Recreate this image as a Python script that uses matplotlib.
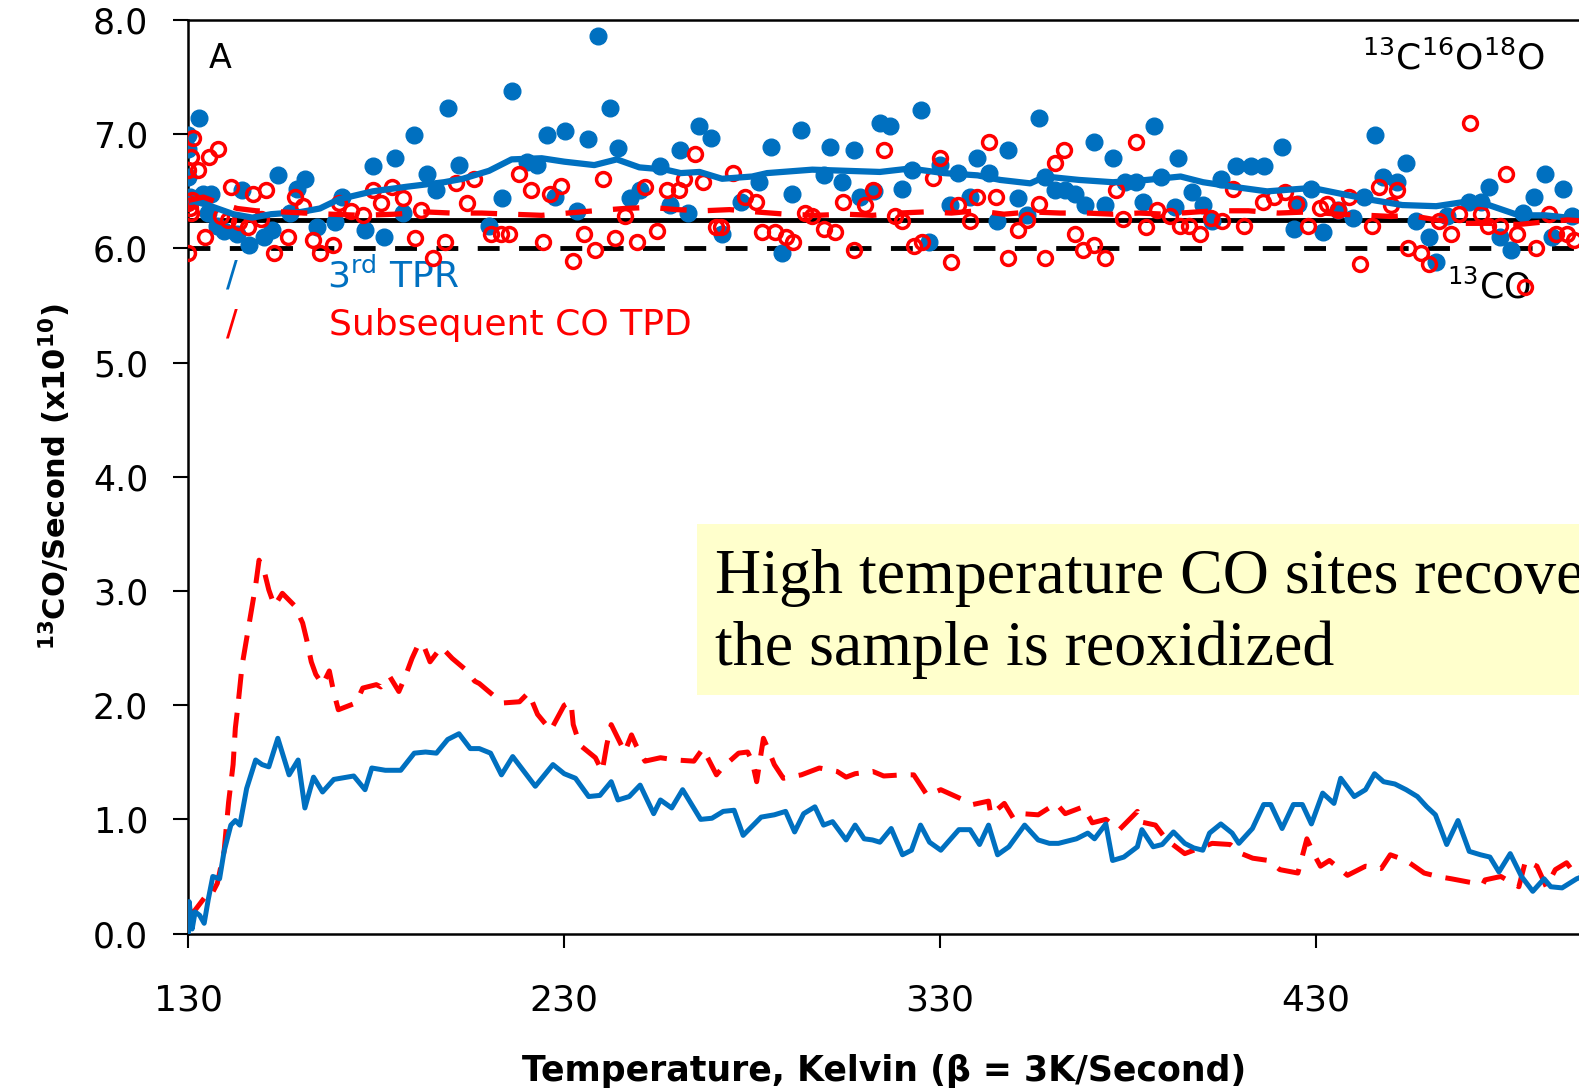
import matplotlib
matplotlib.use('Agg')
from matplotlib import pyplot as plt
from matplotlib.patches import Rectangle

# ---- 13CO traces (lower curves) ----
tpr_co_t = [130, 130.2, 131, 131.8, 133, 134.2, 135.3, 136.5, 138.3, 139.5, 141.3, 142.5, 143.7,
            145.5, 147.9, 149.6, 151.4, 153.8, 156.8, 159.2, 161, 163.3, 165.7, 168.7, 174, 177,
            178.8, 182.4, 186.5, 190.1, 193.1, 196, 199, 202, 205, 207.4, 210.4, 213.3, 216.3,
            219.3, 222.3, 227, 230, 233, 236.5, 239.5, 242.5, 244.3, 247.3, 250.2, 253.8, 255.6,
            258.6, 261.5, 266.3, 269.3, 272.3, 275.2, 277.6, 282.4, 285.9, 288.9, 291.3, 293.7,
            296.7, 299, 301.4, 305, 307.4, 309.8, 312, 314, 317, 320, 322.4, 324.8, 327.2, 330.2,
            335, 338, 340.5, 342.9, 345.3, 348.3, 352.5, 356.1, 359.1, 361.5, 366.3, 369.3, 371.1,
            374.1, 375.9, 378.9, 382.5, 383.7, 386.7, 389.1, 392.1, 395.1, 397.5, 399.9, 401.7,
            404.7, 407.7, 409.5, 413.1, 416.1, 418, 421, 424, 426.4, 428.8, 431.8, 434.8, 436.6,
            440.2, 443.2, 445.6, 448, 451, 454, 457, 459.5, 461.8, 464.8, 467.8, 470.8, 473.8,
            476.3, 478.7, 481.7, 484.7, 487.7, 490.7, 492.5, 495.5, 499.4, 501]
tpr_co = [0, 0.28, 0.04, 0.19, 0.16, 0.09, 0.3, 0.50, 0.48, 0.72, 0.95, 0.99, 0.95,
          1.27, 1.52, 1.48, 1.46, 1.71, 1.39, 1.52, 1.10, 1.37, 1.24, 1.35, 1.38, 1.26,
          1.45, 1.43, 1.43, 1.58, 1.59, 1.58, 1.70, 1.75, 1.62, 1.62, 1.58, 1.39, 1.55,
          1.42, 1.29, 1.48, 1.40, 1.36, 1.20, 1.21, 1.33, 1.17, 1.20, 1.30, 1.05, 1.17,
          1.10, 1.26, 1.00, 1.01, 1.07, 1.08, 0.86, 1.02, 1.04, 1.07, 0.89, 1.05,
          1.11, 0.95, 0.98, 0.82, 0.95, 0.83, 0.82, 0.80, 0.92, 0.69, 0.73, 0.95, 0.80, 0.73,
          0.91, 0.91, 0.78, 0.95, 0.69, 0.76, 0.95, 0.82, 0.79, 0.79, 0.83, 0.88, 0.83,
          0.96, 0.64, 0.67, 0.76, 0.91, 0.76, 0.78, 0.89, 0.79, 0.75, 0.73, 0.88,
          0.96, 0.88, 0.79, 0.92, 1.13, 1.13, 0.92, 1.13, 1.13, 0.96, 1.23, 1.14, 1.36,
          1.20, 1.26, 1.40, 1.33, 1.31, 1.26, 1.20, 1.11, 1.04, 0.78, 0.99, 0.72, 0.69,
          0.67, 0.54, 0.70, 0.50, 0.37, 0.48, 0.41, 0.40, 0.48, 0.50]

tpd_co_t = [130, 131.2, 134.2, 135.5, 137.7, 139.5, 140.7, 141.9, 142.5, 143.1, 144.3, 146,
            147.9, 148.8, 150.2, 151.4, 152.9, 155, 158.3, 160.4, 161.5, 162.7, 163.9, 165.7,
            167.5, 168.7, 169.9, 174.6, 176.4, 180, 181.2, 183.6, 186, 187.7, 189.5, 191.3,
            192.5, 194.3, 197.3, 200.2, 203.8, 206.2, 207.4, 211, 213.9, 218.1, 220.5, 222.9,
            226.4, 230, 231.8, 232.4, 234.2, 238.3, 240.1, 241.3, 242.5, 244.3, 246.1, 247.9,
            249.1, 251.5, 255.6, 259.8, 264.5, 266.9, 270.5, 272.3, 276.4, 278.8, 280, 281.2,
            283, 284.2, 285.9, 288.3, 293.1, 297.9, 302.6, 305, 307.4, 312.1, 315, 320, 323,
            326.6, 330.2, 335.6, 338.7, 342.9, 343.5, 347.1, 349.5, 351.9, 356.1, 360.9, 363.3,
            368.1, 370.5, 374.1, 377.7, 382.5, 383.1, 387.3, 390.3, 395.1, 402.4, 407.2, 410.2,
            413.2, 417.4, 420.4, 425.2, 427.6, 429.4, 431.2, 433.6, 438.4, 443.2, 447.4, 449.8,
            454, 458.8, 462.4, 466, 470.8, 474.4, 475, 479.2, 484, 485.8, 488.8, 491.3, 493.7,
            496.7, 499.4, 501]
tpd_co = [0.22, 0.18, 0.31, 0.30, 0.44, 0.72, 1.15, 1.48, 1.80, 1.97, 2.35, 2.68,
          3.05, 3.27, 3.17, 3.01, 2.87, 2.98, 2.87, 2.72, 2.57, 2.38, 2.27, 2.18,
          2.30, 2.11, 1.96, 2.02, 2.15, 2.18, 2.16, 2.25, 2.12, 2.25, 2.41, 2.54,
          2.53, 2.38, 2.51, 2.41, 2.31, 2.21, 2.19, 2.09, 2.02, 2.03, 2.11, 1.92,
          1.78, 2.00, 2.03, 1.83, 1.65, 1.54, 1.42, 1.65, 1.83, 1.71, 1.59, 1.74,
          1.65, 1.51, 1.54, 1.52, 1.51, 1.62, 1.39, 1.46, 1.58, 1.59, 1.51, 1.33,
          1.71, 1.62, 1.48, 1.36, 1.39, 1.45, 1.42, 1.37, 1.40, 1.42, 1.38, 1.39, 1.39,
          1.21, 1.26, 1.18, 1.13, 1.16, 1.04, 1.14, 1.01, 1.05, 1.04, 1.14, 1.05,
          1.11, 0.97, 1.00, 0.91, 1.07, 0.98, 0.95, 0.82, 0.70, 0.79, 0.78, 0.70,
          0.66, 0.64, 0.56, 0.53, 0.83, 0.70, 0.59, 0.64, 0.51, 0.59, 0.57, 0.69,
          0.64, 0.53, 0.50, 0.48, 0.45, 0.43, 0.47, 0.50, 0.41, 0.64, 0.59, 0.41, 0.56,
          0.62, 0.50, 0.52]

# ---- 13C16O18O traces (upper curves) ----
tpr_avg_t = [130, 136, 142, 147, 152, 160, 165, 170, 179, 188, 198, 203, 210, 216, 224, 230,
             238, 244, 250, 257, 261, 266, 272, 280, 284, 296, 314, 322, 331, 340, 346, 354,
             358, 367, 376, 385, 391, 394, 400, 408, 417, 429, 438, 444, 453, 462, 470, 476,
             484, 491, 497, 501]
tpr_avg = [6.43, 6.37, 6.30, 6.27, 6.30, 6.32, 6.35, 6.43, 6.50, 6.54, 6.58, 6.61, 6.68, 6.78,
           6.79, 6.76, 6.73, 6.78, 6.71, 6.69, 6.66, 6.67, 6.61, 6.63, 6.66, 6.69, 6.67, 6.70,
           6.66, 6.64, 6.60, 6.57, 6.63, 6.60, 6.58, 6.60, 6.62, 6.63, 6.58, 6.54, 6.50, 6.53,
           6.47, 6.43, 6.38, 6.37, 6.41, 6.38, 6.29, 6.29, 6.27, 6.30]

tpd_avg_t = [130, 134, 138, 143, 148, 155, 161, 168, 176, 185, 193, 200, 208, 216, 224, 231,
             238, 246, 253, 260, 267, 274, 281, 289, 297, 305, 312, 319, 326, 333, 340, 347,
             354, 362, 369, 376, 383, 390, 394, 403, 412, 420, 428, 436, 444, 450, 455, 462,
             469, 476, 484, 490, 497, 501]
tpd_avg = [6.42, 6.45, 6.40, 6.35, 6.33, 6.32, 6.31, 6.30, 6.29, 6.30, 6.32, 6.31, 6.31, 6.30,
           6.29, 6.31, 6.33, 6.35, 6.36, 6.34, 6.33, 6.34, 6.32, 6.30, 6.29, 6.30, 6.29, 6.31,
           6.32, 6.31, 6.33, 6.30, 6.32, 6.31, 6.31, 6.30, 6.31, 6.30, 6.31, 6.33, 6.33, 6.31,
           6.32, 6.30, 6.29, 6.28, 6.29, 6.25, 6.22, 6.22, 6.21, 6.23, 6.25, 6.24]

tpr_pts_t = [130, 130, 132.9, 130, 130.4, 133.8, 136, 135.2, 137.5, 139.6, 143, 146, 150, 152.2,
             144.3, 153.9, 157, 158.8, 161, 164.1, 169, 170.8, 177, 179, 182, 185, 187.2, 190.1,
             193.4, 196, 199.1, 202, 210.1, 213.4, 216.2, 220, 222.7, 225.3, 227.5, 230.2, 233.3,
             236.4, 239.1, 242.2, 244.4, 247.5, 250.1, 255.4, 258.1, 260.8,
             265.9, 269, 263, 272.1, 277, 281.8, 284.9, 288, 290.6, 292.9, 299, 300.8, 303.9, 307,
             308.8, 312.3, 314.1, 316.8, 319.9, 322.5, 325, 327, 330, 332.7, 334.9, 338, 339.8,
             342.9, 345.1, 348.2, 350.8, 353, 356.2, 357.9, 360.6, 363.2, 365.9, 368.6, 370.9,
             373.8, 376.1, 379.2, 382.2, 384, 386.9, 388.9, 392.4, 393.3,
             397, 400, 402.4, 404.8, 408.8, 412.8, 416.3, 420.9, 424.3, 425.2, 428.7, 431.8,
             435.8, 439.8, 442.9, 445.8, 447.8, 451.6, 454, 456.6, 460.2, 461.9, 465, 470.8,
             473.9, 476.1, 479, 481.8, 485, 488, 490.9, 492.9, 495.8, 498.2]
tpr_pts = [6.99, 6.87, 7.14, 6.63, 6.45, 6.48, 6.48, 6.31, 6.20, 6.15, 6.13, 6.03, 6.10, 6.16,
           6.51, 6.64, 6.31, 6.52, 6.61, 6.19, 6.23, 6.45, 6.16, 6.72, 6.10, 6.79, 6.31, 6.99,
           6.65, 6.51, 7.23, 6.73, 6.20, 6.44, 7.38, 6.76, 6.73, 6.99, 6.45, 7.03, 6.33,
           6.96, 7.86, 7.23, 6.88, 6.44, 6.51, 6.72, 6.38, 6.86,
           7.07, 6.97, 6.31, 6.13, 6.41, 6.58, 6.89, 5.96, 6.48, 7.04, 6.64, 6.89, 6.58, 6.86,
           6.45, 6.50, 7.10, 7.07, 6.52, 6.69, 7.21, 6.06, 6.73, 6.38, 6.66, 6.45, 6.79,
           6.66, 6.24, 6.86, 6.44, 6.29, 7.14, 6.63, 6.51, 6.51, 6.48, 6.38, 6.93,
           6.38, 6.79, 6.58, 6.58, 6.41, 7.07, 6.63, 6.36, 6.79,
           6.49, 6.38, 6.24, 6.61, 6.72, 6.72, 6.72, 6.89, 6.17, 6.39, 6.52, 6.14,
           6.34, 6.27, 6.45, 6.99, 6.63, 6.58, 6.75, 6.24, 6.10, 5.88, 6.28, 6.41,
           6.41, 6.54, 6.10, 5.99, 6.31, 6.45, 6.65, 6.10, 6.52, 6.28]

tpd_pts_t = [131.2, 137.8, 135.6, 130.8, 130, 132.5, 130.8, 130, 130, 130.5, 131, 134.4, 138.8,
             140.5, 143.6, 145.8, 149.4, 141.4, 147.2, 150.7, 152.9, 156.5, 158.3, 160.5, 163.1,
             164.9, 168.4, 170.2, 173.3, 176.4, 179, 181.3, 184.2, 187, 190.3, 192, 195, 198.4,
             201.2, 204.1, 206.1, 210.5, 213.2, 215.4, 218.1, 221.2, 224.4, 226.1, 229.2, 232.4,
             235.3, 238.2, 240.4, 243.5, 246.2, 249.3, 251.5, 254.7, 257.3,
             260.6, 261.9, 264.8, 266.9, 270.3, 271.6, 274.9, 278.1, 281.1, 282.7, 286, 288.9,
             290.8, 294, 296, 299, 302, 304.1, 307, 310, 312.1, 315, 317.9, 320, 323, 325.2, 328,
             330, 333, 334.9, 338, 339.8, 342.9, 344.8, 348, 350.8, 353, 356.2, 357.9, 360.7,
             363.1, 365.9, 368.1, 371, 373.9, 376.7, 378.7, 382.1, 384.9, 387.8, 391.1,
             393.8, 396.2, 399.1, 402, 405, 407.9, 410.9, 415.9, 418.8, 421.8, 424.7, 427.8, 431,
             433, 436, 438.9, 441.8, 444.8, 446.9, 450, 451.7, 454.4, 457.9, 460.2, 462.8, 465.9,
             468.1, 471, 473.9, 475.8, 478.9, 480.7, 483.6, 485.6, 488.5, 492, 493.8, 496.7, 498.8]
tpd_pts = [6.97, 6.87, 6.80, 6.80, 6.69, 6.69, 6.31, 5.96, 6.40, 6.35, 6.42, 6.10, 6.28,
           6.25, 6.23, 6.19, 6.26, 6.54, 6.48, 6.51, 5.96, 6.10, 6.45, 6.37, 6.07,
           5.96, 6.03, 6.40, 6.33, 6.29, 6.51, 6.40, 6.54, 6.44, 6.09, 6.34, 5.92, 6.06,
           6.57, 6.40, 6.61, 6.13, 6.13, 6.13, 6.65, 6.51, 6.06, 6.48, 6.55, 5.89,
           6.13, 5.99, 6.61, 6.09, 6.28, 6.06, 6.54, 6.15, 6.51,
           6.51, 6.61, 6.83, 6.58, 6.19, 6.19, 6.66, 6.45, 6.41, 6.14, 6.14, 6.10,
           6.06, 6.31, 6.28, 6.17, 6.14, 6.41, 5.99, 6.38, 6.51, 6.86, 6.28, 6.24, 6.02, 6.06, 6.62,
           6.79, 5.88, 6.38, 6.24, 6.45, 6.93, 6.45, 5.92, 6.16, 6.25, 6.39, 5.92, 6.75,
           6.86, 6.13, 5.99, 6.03, 5.92, 6.51, 6.26, 6.93, 6.19, 6.34, 6.28,
           6.20, 6.20, 6.13, 6.27, 6.24, 6.52, 6.20, 6.41, 6.45, 6.49, 6.39, 6.20, 6.35,
           6.39, 6.34, 6.45, 5.86, 6.20, 6.54, 6.38, 6.51, 6.00, 5.96, 5.86, 6.24, 6.13,
           6.30, 7.10, 6.30, 6.20, 6.20, 6.65, 6.13, 5.66, 6.00, 6.30, 6.13, 6.13, 6.07]

x_ticks = [130, 230, 330, 430]
y_ticks = [0, 1, 2, 3, 4, 5, 6, 7, 8]

blue = '#0070C0'
red = '#FF0000'

fig = plt.figure(figsize=(15.79, 10.91), dpi=100)
ax = fig.add_axes([0.1193, 0.1443, 0.8807, 0.8373])

# reference lines
ax.plot([130, 497], [6.25, 6.25], color='black', lw=3.5, zorder=2)
ax.plot([130, 501], [6.0, 6.0], color='black', lw=3.5, dashes=(4.5, 4), zorder=2)

# scatter of individual points
ax.plot(tpr_pts_t, tpr_pts, 'o', color=blue, ms=12, mec=blue, zorder=3)
ax.plot(tpd_pts_t, tpd_pts, 'o', mfc='none', mec=red, ms=10, mew=2.5, zorder=4)

# averaged lines
ax.plot(tpr_avg_t, tpr_avg, color=blue, lw=4.5, zorder=5)
ax.plot(tpd_avg_t, tpd_avg, color=red, lw=3.8, dashes=(5, 4), zorder=5)

# 13CO lines
ax.plot(tpd_co_t, tpd_co, color=red, lw=3.6, dashes=(5, 2.8), zorder=5)
ax.plot(tpr_co_t, tpr_co, color=blue, lw=3.6, zorder=6)

ax.set_xlim(130, 500)
ax.set_ylim(0, 8)
ax.set_xticks(x_ticks)
ax.set_yticks(y_ticks)
ax.set_yticklabels(['%.1f' % v for v in y_ticks])
ax.tick_params(axis='x', direction='out', length=10, width=1.5, pad=26, labelsize=26)
ax.tick_params(axis='y', direction='out', length=11, width=1.5, pad=18, labelsize=25)
ax.spines['right'].set_visible(False)
for s in ['left', 'bottom', 'top']:
    ax.spines[s].set_linewidth(1.8)

ax.set_xlabel('Temperature, Kelvin (β = 3K/Second)', fontsize=25, fontweight='bold', labelpad=26)
ax.set_ylabel(r'$^{\mathbf{13}}$CO/Second (x10$^{\mathbf{10}}$)', fontsize=22, fontweight='bold',
              labelpad=14)

# annotations
ax.text(135.3, 7.66, 'A', fontsize=24, va='center', ha='left')
ax.text(442.3, 7.66, r'$\mathregular{^{13}C^{16}O^{18}O}$', fontsize=26, va='center', ha='left')
ax.text(465, 5.66, r'$\mathregular{^{13}CO}$', fontsize=25, va='center', ha='left')
ax.text(141.5, 5.76, '/', color=blue, fontsize=25, va='center', ha='center')
ax.text(167, 5.76, r'3$\mathregular{^{rd}}$ TPR', color=blue, fontsize=26, va='center', ha='left')
ax.text(141.5, 5.33, '/', color=red, fontsize=25, va='center', ha='center')
ax.text(167.4, 5.33, 'Subsequent CO TPD', color=red, fontsize=26, va='center', ha='left')

# yellow note box
ax.add_patch(Rectangle((265.2, 2.09), 260, 1.50, facecolor='#FFFFCC', edgecolor='none',
                       zorder=1, clip_on=False))
ax.text(270.2, 2.80, 'High temperature CO sites recover when\nthe sample is reoxidized',
        family='Liberation Serif', fontsize=46, va='center', ha='left', linespacing=1.3,
        zorder=7, clip_on=False)

fig.savefig('out.png', dpi=100)
